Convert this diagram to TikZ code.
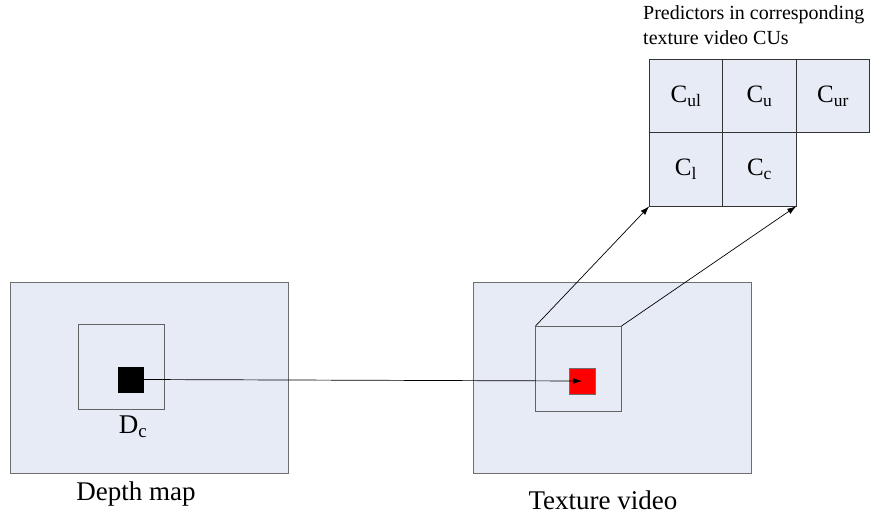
\documentclass[tikz,border=0pt]{standalone}
\usepackage{fontspec}
\setmainfont{Liberation Serif}
\usetikzlibrary{arrows.meta}
\definecolor{panel}{RGB}{230,235,246}
\definecolor{edge}{RGB}{110,110,110}
\newcommand{\sbs}[1]{\textsubscript{#1}}
\begin{document}
\begin{tikzpicture}[x=1pt,y=-1pt,
  frame/.style={draw=edge,line width=1pt,fill=panel,inner sep=0pt,outer sep=0pt,minimum width=278pt,minimum height=191pt},
  win/.style={draw=edge!90!black,line width=1pt,inner sep=0pt,outer sep=0pt,minimum width=86pt,minimum height=85pt},
  blk/.style={inner sep=0pt,outer sep=0pt,minimum size=26pt},
  cell/.style={draw=black!80,line width=0.8pt,fill=panel,inner sep=0pt,outer sep=0pt,minimum size=73.5pt,font=\fontsize{25}{28}\selectfont},
  lbl/.style={font=\fontsize{27}{30}\selectfont,inner sep=0pt},
  con/.style={line width=0.7pt,-{Latex[length=9pt,width=6pt]}}
]
\useasboundingbox (0,0) rectangle (877,520);
% depth map
\node[frame] (depth) at (149,377.5) {};
\node[win] (dwin) at (121,366.5) {};
\node[blk,fill=black] (dc) at (131,379.5) {};
\node[lbl] (dclabel) at (133,427) {D\sbs{c}};
\node[lbl] (dlabel) at (136,494) {Depth map};
% texture video
\node[frame] (tex) at (612,377.5) {};
\node[win] (twin) at (578.5,368.5) {};
\node[blk,fill=red,draw=edge,line width=0.6pt] (red) at (582,381) {};
\node[lbl] (tlabel) at (603,500) {Texture video};
% predictor grid
\node[cell] (cul) at (686,96) {C\sbs{ul}};
\node[cell] (cu) at (759.5,96) {C\sbs{u}};
\node[cell] (cur) at (833,96) {C\sbs{ur}};
\node[cell] (cl) at (686,169.5) {C\sbs{l}};
\node[cell] (cc) at (759.5,169.5) {C\sbs{c}};
\node[font=\fontsize{20}{25}\selectfont,align=left,anchor=north west,inner sep=0pt] (title) at (643,5) {Predictors in corresponding\\texture video CUs};
% connectors
\coordinate (tip) at (582,381);
\draw[con] (dc.east) -- (tip);
\draw[con] (twin.north west) -- (cl.south west);
\draw[con] (twin.north east) -- (cc.south east);
\end{tikzpicture}
\end{document}
